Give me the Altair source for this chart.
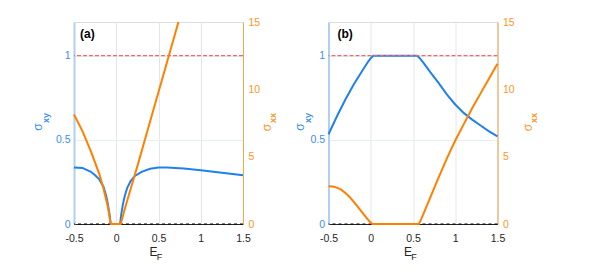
import altair as alt
import pandas as pd

# ---------------- data ----------------
# Panel (a)
a_xy_E = [-0.5, -0.4, -0.3, -0.25, -0.2, -0.15, -0.12, -0.1, -0.08, -0.065,
          0.045, 0.06, 0.08, 0.1, 0.13, 0.17, 0.22, 0.3, 0.4, 0.5, 0.6, 0.8, 1.0, 1.25, 1.5]
a_xy = [0.335, 0.333, 0.31, 0.29, 0.265, 0.22, 0.17, 0.12, 0.06, 0.0,
        0.0, 0.06, 0.12, 0.165, 0.215, 0.255, 0.285, 0.31, 0.328, 0.335, 0.335, 0.33, 0.32, 0.305, 0.29]
a_xx_E = [-0.5, -0.4, -0.3, -0.2, -0.15, -0.1, -0.065, 0.053, 0.1, 0.17, 0.25, 0.35, 0.45, 0.55, 0.65, 0.736]
a_xx = [8.13, 6.9, 5.4, 3.7, 2.6, 1.3, 0.0, 0.0, 1.1, 2.6, 4.3, 6.5, 8.7, 10.9, 13.1, 15.0]

# Panel (b)
b_xy_E = [-0.5, -0.4, -0.3, -0.2, -0.1, -0.03, 0.0, 0.03, 0.55, 0.58, 0.62, 0.7, 0.8, 0.9, 1.0,
          1.1, 1.2, 1.3, 1.4, 1.5]
b_xy = [0.533, 0.64, 0.74, 0.83, 0.91, 0.965, 0.985, 1.0, 1.0, 0.985, 0.96, 0.905, 0.84, 0.77, 0.71,
        0.66, 0.62, 0.585, 0.55, 0.52]
b_xx_E = [-0.5, -0.45, -0.4, -0.35, -0.3, -0.25, -0.2, -0.15, -0.1, -0.05, 0.0, 0.02, 0.57, 0.6,
          0.7, 0.8, 0.9, 1.0, 1.1, 1.2, 1.3, 1.4, 1.5]
b_xx = [2.8, 2.78, 2.7, 2.55, 2.3, 2.0, 1.65, 1.25, 0.85, 0.45, 0.1, 0.0, 0.0, 0.4,
        1.9, 3.4, 4.85, 6.2, 7.4, 8.6, 9.7, 10.8, 11.9]

x_ticks = [-0.5, 0, 0.5, 1, 1.5]
left_ticks = [0, 0.5, 1]
right_ticks = [0, 5, 10, 15]
quantum_level = [1]
zero_level = [0]

BLUE = "#1F80F0"
BLUE_TXT = "#3A8EF0"
BLUE_AX = "#AFCFF5"
ORANGE = "#FF8000"
ORANGE_TXT = "#FF9526"
ORANGE_AX = "#F7A450"
DARK = "#262626"
W, H = 169, 202
FONT = "Liberation Sans"


def txt(s, x, y, size, color, weight="normal", angle=0, align="center"):
    return alt.Chart(pd.DataFrame({"t": [s]})).mark_text(
        fontSize=size, font=FONT, color=color, fontWeight=weight, angle=angle,
        align=align, baseline="middle"
    ).encode(x=alt.value(x), y=alt.value(y), text="t:N")


def panel(E_xy, xy, E_xx, xx, tag, tagx, lsx, rsx):
    df_xy = pd.DataFrame({"E": E_xy, "v": xy})
    df_xx = pd.DataFrame({"E": E_xx, "v": xx})
    xenc = alt.X("E:Q", scale=alt.Scale(domain=[-0.5, 1.5], nice=False, zero=False),
                 axis=alt.Axis(values=x_ticks, title=None, grid=True, gridColor="#E6E6E6",
                               domainColor=DARK, labelColor=DARK, ticks=False, labelPadding=9,
                               labelFontSize=10.5, labelFont=FONT, labelFlush=False,
                               labelExpr="toString(datum.value)"))
    yl_scale = alt.Scale(domain=[0, 1.2], nice=False, zero=False)
    blue = alt.Chart(df_xy).mark_line(color=BLUE, strokeWidth=2).encode(
        x=xenc,
        y=alt.Y("v:Q", scale=yl_scale,
                axis=alt.Axis(values=left_ticks, title=None, grid=True, gridColor="#E6EEF6",
                              domainColor=BLUE_AX, domainWidth=2, labelColor=BLUE_TXT,
                              ticks=False, labelPadding=4, labelFontSize=10.5, labelFont=FONT,
                              labelFlush=False, labelExpr="toString(datum.value)")),
    )
    red = alt.Chart(pd.DataFrame({"v": quantum_level})).mark_rule(
        stroke="#F06A6A", strokeDash=[4, 2], strokeWidth=1.2, opacity=1).encode(y="v:Q")
    black = alt.Chart(pd.DataFrame({"v": zero_level})).mark_rule(
        stroke="#000000", strokeDash=[3, 3], strokeWidth=1).encode(y="v:Q")
    labels = [
        txt(tag, tagx, 11.5, 12, "#000000", weight="bold", align="left"),
        txt("σ", lsx, 105, 12, BLUE_TXT, angle=270),
        txt("xy", lsx + 8, 96, 9, BLUE_TXT, weight="bold", angle=270),
        txt("σ", rsx, 105.5, 12, ORANGE_TXT, angle=270),
        txt("xx", rsx + 6, 96, 9, ORANGE_TXT, weight="bold", angle=270),
        txt("E", 79.5, 229.5, 12, DARK),
        txt("F", 85.5, 235, 9, DARK),
    ]
    left_layer = alt.layer(blue, red, black, *labels)
    orange = alt.Chart(df_xx).mark_line(color=ORANGE, strokeWidth=2).encode(
        x=xenc,
        y=alt.Y("v:Q", scale=alt.Scale(domain=[0, 15], nice=False, zero=False),
                axis=alt.Axis(values=right_ticks, orient="right", title=None, grid=False,
                              domainColor=ORANGE_AX, labelColor=ORANGE_TXT, ticks=False,
                              labelPadding=5, labelFontSize=10.5, labelFont=FONT,
                              labelFlush=False)),
    )
    return alt.layer(left_layer, orange).resolve_scale(y="independent").properties(
        width=W, height=H)


pa = panel(a_xy_E, a_xy, a_xx_E, a_xx, "(a)", 6, -36, 192.7)
pb = panel(b_xy_E, b_xy, b_xx_E, b_xx, "(b)", 9, -28.5, 199.3)

chart = alt.hconcat(pa, pb, spacing=85.5, bounds="flush").properties(
    padding={"left": 23, "top": 8, "right": 5, "bottom": 5}
).configure_view(stroke="#8C8C8C", strokeWidth=1).configure(font=FONT)

chart.save("out.html", embed_options={"renderer": "svg", "actions": False})
